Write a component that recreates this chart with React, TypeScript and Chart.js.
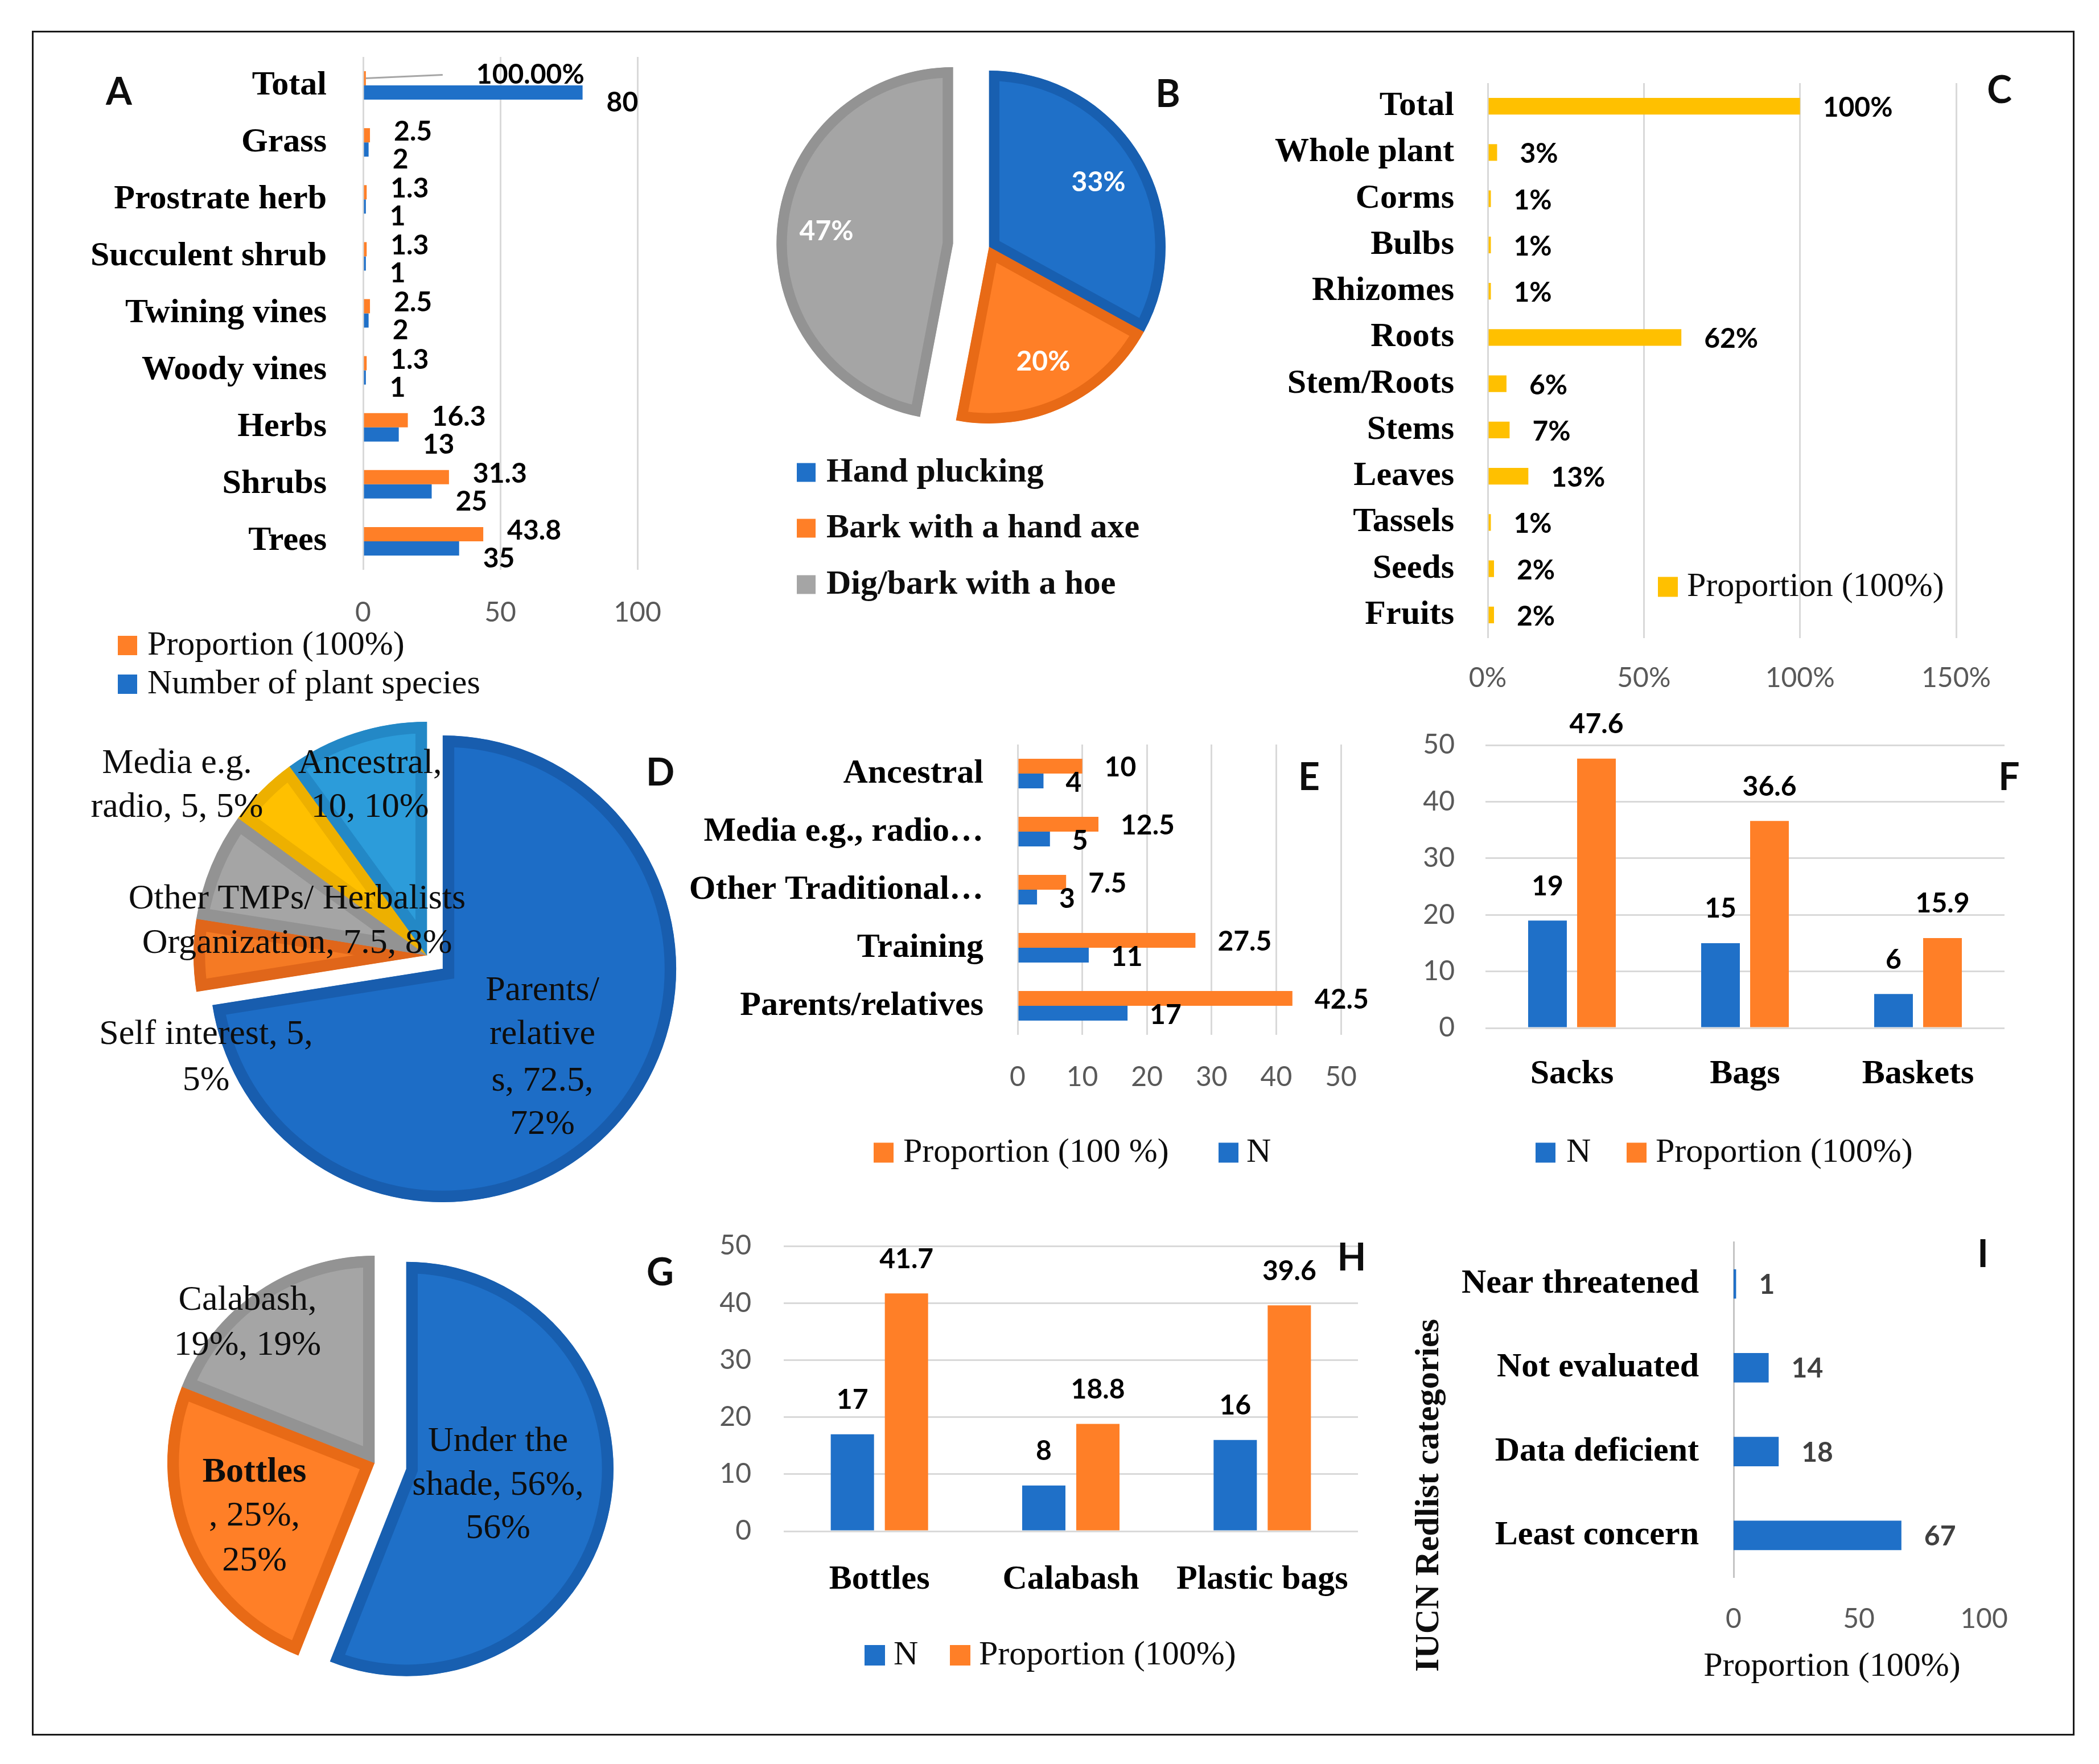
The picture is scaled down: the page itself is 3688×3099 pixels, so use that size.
import React, { useEffect, useRef } from 'react';
import { Chart, registerables } from 'chart.js';

Chart.register(...registerables);

const SERIF = "'Liberation Serif', 'Times New Roman', serif";
const SANS = "Lato, 'Open Sans', 'DejaVu Sans', sans-serif";
Chart.defaults.font.family = SANS;

const BLUE = '#1F70C8';
const BLUE_EDGE = '#185FB0';
const ORANGE = '#FF7F27';
const ORANGE_EDGE = '#E86A16';
const GREY = '#A5A5A5';
const GREY_EDGE = '#939393';
const YELLOW = '#FFC000';
const YELLOW_EDGE = '#EDB000';
const SKY = '#2C9CDA';
const SKY_EDGE = '#2388C6';
const GRID = '#D9D9D9';
const TICK = '#595959';
const INK = '#0D0D0D';

// ---------------- DATA ----------------
// A: growth forms
const A_CATEGORIES = ['Total', 'Grass', 'Prostrate herb', 'Succulent shrub', 'Twining vines', 'Woody vines', 'Herbs', 'Shrubs', 'Trees'];
const A_PROPORTION = [1, 2.5, 1.3, 1.3, 2.5, 1.3, 16.3, 31.3, 43.8];
const A_PROPORTION_LABELS = ['100.00%', '2.5', '1.3', '1.3', '2.5', '1.3', '16.3', '31.3', '43.8'];
const A_SPECIES = [80, 2, 1, 1, 2, 1, 13, 25, 35];
const A_SERIES = ['Proportion (100%)', 'Number of plant species'];
const A_TICKS = [0, 50, 100];

// B: harvesting methods
const B_METHODS = ['Hand plucking', 'Bark with a hand axe', 'Dig/bark with a hoe'];
const B_SHARES = [33, 20, 47];

// C: plant parts
const C_PARTS = ['Total', 'Whole plant', 'Corms', 'Bulbs', 'Rhizomes', 'Roots', 'Stem/Roots', 'Stems', 'Leaves', 'Tassels', 'Seeds', 'Fruits'];
const C_SHARES = [100, 3, 1, 1, 1, 62, 6, 7, 13, 1, 2, 2];
const C_SERIES = 'Proportion (100%)';
const C_TICKS = [0, 50, 100, 150];

// D: source of knowledge (pie)
const D_SOURCES = ['Parents/relatives', 'Self interest', 'Other TMPs/ Herbalists Organization', 'Media e.g. radio', 'Ancestral'];
const D_VALUES = [72.5, 5, 7.5, 5, 10];
const D_LABEL_LINES = [
  ['Parents/', 'relative', 's, 72.5,', '72%'],
  ['Self interest, 5,', '5%'],
  ['Other TMPs/ Herbalists', 'Organization, 7.5, 8%'],
  ['Media e.g.', 'radio, 5, 5%'],
  ['Ancestral,', '10, 10%'],
];

// E: source of knowledge (bars)
const E_SOURCES = ['Ancestral', 'Media e.g., radio\u2026', 'Other Traditional\u2026', 'Training', 'Parents/relatives'];
const E_PROPORTION = [10, 12.5, 7.5, 27.5, 42.5];
const E_N = [4, 5, 3, 11, 17];
const E_SERIES = ['Proportion (100 %)', 'N'];
const E_TICKS = [0, 10, 20, 30, 40, 50];

// F: transport containers
const F_CONTAINERS = ['Sacks', 'Bags', 'Baskets'];
const F_N = [19, 15, 6];
const F_PROPORTION = [47.6, 36.6, 15.9];
const F_SERIES = ['N', 'Proportion (100%)'];
const F_TICKS = [0, 10, 20, 30, 40, 50];

// G: storage (pie)
const G_STORAGE = ['Under the shade', 'Bottles', 'Calabash'];
const G_VALUES = [56, 25, 19];
const G_LABEL_LINES = [
  ['Under the', 'shade, 56%,', '56%'],
  ['Bottles', ', 25%,', '25%'],
  ['Calabash,', '19%, 19%'],
];

// H: storage containers
const H_CONTAINERS = ['Bottles', 'Calabash', 'Plastic bags'];
const H_N = [17, 8, 16];
const H_PROPORTION = [41.7, 18.8, 39.6];
const H_SERIES = ['N', 'Proportion (100%)'];
const H_TICKS = [0, 10, 20, 30, 40, 50];

// I: IUCN categories
const I_CATEGORIES = ['Near threatened', 'Not evaluated', 'Data deficient', 'Least concern'];
const I_VALUES = [1, 14, 18, 67];
const I_TICKS = [0, 50, 100];
const I_X_TITLE = 'Proportion (100%)';
const I_Y_TITLE = 'IUCN Redlist categories';

// ---------------- helpers ----------------
const LETTER_FONT = `bold 66px ${SANS}`;
const LABEL_FONT = `bold 48px ${SANS}`;
const LEGEND_FONT = `60px ${SERIF}`;
const LEGEND_BOLD = `bold 60px ${SERIF}`;
const PIE_FONT = `62px ${SERIF}`;
const PIE_BOLD = `bold 62px ${SERIF}`;

function annot(ox: number, oy: number, spec: any) {
  return {
    id: 'annot',
    afterDraw(chart: any) {
      const ctx = chart.ctx;
      ctx.save();
      for (const l of spec.lines || []) {
        ctx.strokeStyle = l.color;
        ctx.lineWidth = l.width;
        ctx.beginPath();
        ctx.moveTo(l.x1 - ox, l.y1 - oy);
        ctx.lineTo(l.x2 - ox, l.y2 - oy);
        ctx.stroke();
      }
      for (const b of spec.boxes || []) {
        ctx.fillStyle = b.color;
        ctx.fillRect(b.x - ox, b.y - oy - b.size / 2, b.size, b.size);
      }
      for (const t of spec.texts || []) {
        ctx.save();
        ctx.translate(t.x - ox, t.y - oy);
        if (t.rot) ctx.rotate(t.rot);
        ctx.font = t.font;
        ctx.fillStyle = t.color || INK;
        ctx.textAlign = t.align || 'center';
        ctx.textBaseline = 'middle';
        ctx.fillText(t.text, 0, 0);
        ctx.restore();
      }
      ctx.restore();
    },
  };
}

function legendSpec(entries: any[]) {
  const boxes: any[] = [];
  const texts: any[] = [];
  for (const e of entries) {
    boxes.push({ x: e.x, y: e.y, size: e.size, color: e.color });
    texts.push({ x: e.tx, y: e.y, text: e.text, font: e.font, align: 'left', color: e.textColor || INK });
  }
  return { boxes, texts };
}

function barLabels(sets: any[], horizontal: boolean) {
  return {
    id: 'barLabels',
    afterDatasetsDraw(chart: any) {
      const ctx = chart.ctx;
      ctx.save();
      sets.forEach((s, di) => {
        if (!s) return;
        const meta = chart.getDatasetMeta(di);
        meta.data.forEach((el: any, i: number) => {
          const text = s.labels[i];
          ctx.font = s.font;
          ctx.fillStyle = s.color || '#000';
          ctx.textBaseline = 'middle';
          if (horizontal) {
            const extra = (s.extra && s.extra[i]) || 0;
            const lx = el.x + s.dx + extra;
            const ly = el.y + s.dy;
            if (extra) {
              ctx.strokeStyle = '#A6A6A6';
              ctx.lineWidth = 3;
              ctx.beginPath();
              ctx.moveTo(el.x, el.y);
              ctx.lineTo(lx - 59, ly);
              ctx.stroke();
            }
            ctx.textAlign = 'left';
            ctx.fillText(text, lx, ly);
          } else {
            ctx.textAlign = 'center';
            ctx.fillText(text, el.x, el.y - s.gap);
          }
        });
      });
      ctx.restore();
    },
  };
}

function layoutFor(ox: number, oy: number, w: number, h: number, area: number[]) {
  return {
    yWidth: area[0] - ox,
    xHeight: oy + h - area[3],
    padding: { left: 0, top: area[1] - oy, right: ox + w - area[2], bottom: 0 },
  };
}

function fixBox(size: number, isX: boolean) {
  return (s: any) => {
    if (isX) s.height = size;
    else s.width = size;
    s.paddingTop = 0;
    s.paddingBottom = 0;
    s.paddingLeft = 0;
    s.paddingRight = 0;
  };
}

function linearAxis(ticks: number[], pad: number, size: number, isX: boolean, extra: any = {}) {
  const t: any = { stepSize: ticks[1] - ticks[0], color: TICK, font: { family: SANS, size: 48 }, padding: pad };
  if (extra.callback) t.callback = extra.callback;
  return {
    type: 'linear',
    position: isX ? 'bottom' : 'left',
    min: ticks[0],
    max: ticks[ticks.length - 1],
    ticks: t,
    grid: { display: extra.grid !== false, color: GRID, lineWidth: 3, drawTicks: false },
    border: { display: false },
    afterFit: fixBox(size, isX),
  };
}

function categoryAxis(pad: number, size: number, isX: boolean, extra: any = {}) {
  return {
    type: 'category',
    position: isX ? 'bottom' : 'left',
    ticks: {
      color: '#000',
      font: { family: SERIF, size: 60, weight: 'bold' },
      padding: pad,
      autoSkip: false,
      maxRotation: 0,
      minRotation: 0,
    },
    grid: { display: false, drawTicks: false },
    border: extra.border || { display: false },
    afterFit: fixBox(size, isX),
  };
}

function baseOptions(padding: any, extra: any = {}) {
  return {
    responsive: false,
    animation: false,
    devicePixelRatio: 1,
    events: [],
    layout: { padding },
    plugins: { legend: { display: false }, tooltip: { enabled: false } },
    ...extra,
  };
}

function explode(dist: number[]) {
  return {
    id: 'explode',
    beforeDatasetsDraw(chart: any) {
      const { chartArea } = chart;
      const cx = (chartArea.left + chartArea.right) / 2;
      const cy = (chartArea.top + chartArea.bottom) / 2;
      chart.getDatasetMeta(0).data.forEach((arc: any, i: number) => {
        const d = dist[i] || 0;
        const mid = (arc.startAngle + arc.endAngle) / 2;
        arc.x = cx + Math.cos(mid) * d;
        arc.y = cy + Math.sin(mid) * d;
      });
    },
  };
}

function pieLabels(texts: string[], R: number, frac: number, font: string, color: string) {
  return {
    id: 'pieLabels',
    afterDatasetsDraw(chart: any) {
      const ctx = chart.ctx;
      ctx.save();
      ctx.font = font;
      ctx.fillStyle = color;
      ctx.textAlign = 'center';
      ctx.textBaseline = 'middle';
      chart.getDatasetMeta(0).data.forEach((arc: any, i: number) => {
        const mid = (arc.startAngle + arc.endAngle) / 2;
        ctx.fillText(texts[i], arc.x + Math.cos(mid) * R * frac, arc.y + Math.sin(mid) * R * frac);
      });
      ctx.restore();
    },
  };
}

function pieConfig(ox: number, oy: number, w: number, h: number, p: any) {
  const s = p.radius + 10;
  const padding = {
    left: p.cx - s - ox,
    top: p.cy - s - oy,
    right: ox + w - (p.cx + s),
    bottom: oy + h - (p.cy + s),
  };
  return {
    type: 'pie',
    data: {
      labels: p.labels,
      datasets: [
        {
          data: p.values,
          backgroundColor: p.fills,
          borderColor: p.edges,
          borderWidth: p.borderWidth,
          borderAlign: 'inner',
          borderJoinStyle: 'miter',
        },
      ],
    },
    options: baseOptions(padding, { radius: p.radius }),
    plugins: [explode(p.explode), ...p.plugins],
  };
}

function lines(xs: number, ys: number[], texts: string[], font: string, boldFirst = false) {
  return texts.map((t, i) => ({ x: xs, y: ys[i], text: t, font: boldFirst && i === 0 ? PIE_BOLD : font }));
}

// ---------------- panels ----------------
function makeA(ox: number, oy: number, w: number, h: number) {
  const L = layoutFor(ox, oy, w, h, [638, 100, 1120, 1001]);
  const leg = legendSpec([
    { x: 207, y: 1134, size: 34, color: ORANGE, tx: 259, text: A_SERIES[0], font: LEGEND_FONT },
    { x: 207, y: 1202, size: 34, color: BLUE, tx: 259, text: A_SERIES[1], font: LEGEND_FONT },
  ]);
  return {
    type: 'bar',
    data: {
      labels: A_CATEGORIES,
      datasets: [
        { label: A_SERIES[0], data: A_PROPORTION, backgroundColor: ORANGE, categoryPercentage: 0.5, barPercentage: 1 },
        { label: A_SERIES[1], data: A_SPECIES, backgroundColor: BLUE, categoryPercentage: 0.5, barPercentage: 1 },
      ],
    },
    options: baseOptions(L.padding, {
      indexAxis: 'y',
      scales: { x: linearAxis(A_TICKS, 47, L.xHeight, true), y: categoryAxis(64, L.yWidth, false) },
    }),
    plugins: [
      barLabels(
        [
          { labels: A_PROPORTION_LABELS, dx: 42, dy: -6, font: LABEL_FONT, extra: [152] },
          { labels: A_SPECIES.map(String), dx: 42, dy: 18, font: LABEL_FONT },
        ],
        true
      ),
      annot(ox, oy, { boxes: leg.boxes, texts: [...leg.texts, { x: 209, y: 163, text: 'A', font: LETTER_FONT }] }),
    ],
  };
}

function makeB(ox: number, oy: number, w: number, h: number) {
  const R = 310;
  const leg = legendSpec([
    { x: 1400, y: 830, size: 33, color: BLUE, tx: 1452, text: B_METHODS[0], font: LEGEND_BOLD },
    { x: 1400, y: 928, size: 33, color: ORANGE, tx: 1452, text: B_METHODS[1], font: LEGEND_BOLD },
    { x: 1400, y: 1027, size: 33, color: GREY, tx: 1452, text: B_METHODS[2], font: LEGEND_BOLD },
  ]);
  return pieConfig(ox, oy, w, h, {
    cx: 1738,
    cy: 434,
    radius: R,
    labels: B_METHODS,
    values: B_SHARES,
    fills: [BLUE, ORANGE, GREY],
    edges: [BLUE_EDGE, ORANGE_EDGE, GREY_EDGE],
    borderWidth: 18,
    explode: [0, 0, 64],
    plugins: [
      pieLabels(B_SHARES.map((v) => v + '%'), R, 0.72, `bold 48px ${SANS}`, '#FFFFFF'),
      annot(ox, oy, { boxes: leg.boxes, texts: [...leg.texts, { x: 2052, y: 167, text: 'B', font: LETTER_FONT }] }),
    ],
  });
}

function makeC(ox: number, oy: number, w: number, h: number) {
  const L = layoutFor(ox, oy, w, h, [2614, 146, 3437, 1121]);
  const leg = legendSpec([{ x: 2913, y: 1031, size: 35, color: YELLOW, tx: 2964, text: C_SERIES, font: LEGEND_FONT }]);
  return {
    type: 'bar',
    data: {
      labels: C_PARTS,
      datasets: [{ label: C_SERIES, data: C_SHARES, backgroundColor: YELLOW, categoryPercentage: 0.36, barPercentage: 1 }],
    },
    options: baseOptions(L.padding, {
      indexAxis: 'y',
      scales: {
        x: linearAxis(C_TICKS, 42, L.xHeight, true, { callback: (v: any) => v + '%' }),
        y: categoryAxis(59, L.yWidth, false),
      },
    }),
    plugins: [
      barLabels([{ labels: C_SHARES.map((v) => v + '%'), dx: 40, dy: 3, font: LABEL_FONT }], true),
      annot(ox, oy, { boxes: leg.boxes, texts: [...leg.texts, { x: 3513, y: 160, text: 'C', font: LETTER_FONT }] }),
    ],
  };
}

function makeD(ox: number, oy: number, w: number, h: number) {
  const texts = [
    ...lines(953, [1741, 1818, 1900, 1976], D_LABEL_LINES[0], PIE_FONT),
    ...lines(362, [1818, 1899], D_LABEL_LINES[1], PIE_FONT),
    ...lines(522, [1580, 1658], D_LABEL_LINES[2], PIE_FONT),
    ...lines(311, [1342, 1419], D_LABEL_LINES[3], PIE_FONT),
    ...lines(650, [1342, 1419], D_LABEL_LINES[4], PIE_FONT),
    { x: 1160, y: 1359, text: 'D', font: LETTER_FONT },
  ];
  return pieConfig(ox, oy, w, h, {
    cx: 750,
    cy: 1678,
    radius: 410,
    labels: D_SOURCES,
    values: D_VALUES,
    fills: ['#1D6DC6', '#F57A24', GREY, YELLOW, SKY],
    edges: ['#185DAE', '#E0661A', GREY_EDGE, YELLOW_EDGE, SKY_EDGE],
    borderWidth: 20,
    explode: [37, 0, 0, 0, 0],
    plugins: [annot(ox, oy, { texts })],
  });
}

function makeE(ox: number, oy: number, w: number, h: number) {
  const L = layoutFor(ox, oy, w, h, [1788, 1308, 2356, 1818]);
  const leg = legendSpec([
    { x: 1535, y: 2025, size: 35, color: ORANGE, tx: 1587, text: E_SERIES[0], font: LEGEND_FONT },
    { x: 2141, y: 2025, size: 35, color: BLUE, tx: 2190, text: E_SERIES[1], font: LEGEND_FONT },
  ]);
  return {
    type: 'bar',
    data: {
      labels: E_SOURCES,
      datasets: [
        { label: E_SERIES[0], data: E_PROPORTION, backgroundColor: ORANGE, categoryPercentage: 0.51, barPercentage: 1 },
        { label: E_SERIES[1], data: E_N, backgroundColor: BLUE, categoryPercentage: 0.51, barPercentage: 1 },
      ],
    },
    options: baseOptions(L.padding, {
      indexAxis: 'y',
      scales: { x: linearAxis(E_TICKS, 46, L.xHeight, true), y: categoryAxis(60, L.yWidth, false) },
    }),
    plugins: [
      barLabels(
        [
          { labels: E_PROPORTION.map(String), dx: 39, dy: 3, font: LABEL_FONT },
          { labels: E_N.map(String), dx: 39, dy: 4, font: LABEL_FONT },
        ],
        true
      ),
      annot(ox, oy, { boxes: leg.boxes, texts: [...leg.texts, { x: 2300, y: 1367, text: 'E', font: LETTER_FONT }] }),
    ],
  };
}

function verticalBars(ox: number, oy: number, w: number, h: number, p: any) {
  const L = layoutFor(ox, oy, w, h, p.area);
  return {
    type: 'bar',
    data: {
      labels: p.labels,
      datasets: [
        { label: p.series[0], data: p.n, backgroundColor: BLUE, categoryPercentage: p.cat, barPercentage: p.bar },
        { label: p.series[1], data: p.prop, backgroundColor: ORANGE, categoryPercentage: p.cat, barPercentage: p.bar },
      ],
    },
    options: baseOptions(L.padding, {
      scales: { x: categoryAxis(p.xPad, L.xHeight, true), y: linearAxis(p.ticks, p.yPad, L.yWidth, false) },
    }),
    plugins: [
      barLabels(
        [
          { labels: p.n.map(String), gap: 60, font: LABEL_FONT },
          { labels: p.prop.map(String), gap: 60, font: LABEL_FONT },
        ],
        false
      ),
      annot(ox, oy, { boxes: p.legend.boxes, texts: [...p.legend.texts, p.letter] }),
    ],
  };
}

function makeF(ox: number, oy: number, w: number, h: number) {
  return verticalBars(ox, oy, w, h, {
    area: [2610, 1309, 3522, 1806],
    labels: F_CONTAINERS,
    series: F_SERIES,
    n: F_N,
    prop: F_PROPORTION,
    ticks: F_TICKS,
    cat: 0.566,
    bar: 0.79,
    xPad: 45,
    yPad: 54,
    legend: legendSpec([
      { x: 2698, y: 2025, size: 35, color: BLUE, tx: 2752, text: F_SERIES[0], font: LEGEND_FONT },
      { x: 2858, y: 2025, size: 35, color: ORANGE, tx: 2909, text: F_SERIES[1], font: LEGEND_FONT },
    ]),
    letter: { x: 3530, y: 1367, text: 'F', font: LETTER_FONT },
  });
}

function makeG(ox: number, oy: number, w: number, h: number) {
  const texts = [
    ...lines(875, [2533, 2610, 2686], G_LABEL_LINES[0], PIE_FONT),
    ...lines(447, [2587, 2664, 2743], G_LABEL_LINES[1], PIE_FONT, true),
    ...lines(435, [2285, 2364], G_LABEL_LINES[2], PIE_FONT),
    { x: 1160, y: 2237, text: 'G', font: LETTER_FONT },
  ];
  return pieConfig(ox, oy, w, h, {
    cx: 658,
    cy: 2570,
    radius: 364,
    labels: G_STORAGE,
    values: G_VALUES,
    fills: [BLUE, ORANGE, GREY],
    edges: [BLUE_EDGE, ORANGE_EDGE, GREY_EDGE],
    borderWidth: 20,
    explode: [57, 0, 0],
    plugins: [annot(ox, oy, { texts })],
  });
}

function makeH(ox: number, oy: number, w: number, h: number) {
  return verticalBars(ox, oy, w, h, {
    area: [1377, 2189, 2386, 2690],
    labels: H_CONTAINERS,
    series: H_SERIES,
    n: H_N,
    prop: H_PROPORTION,
    ticks: H_TICKS,
    cat: 0.565,
    bar: 0.8,
    xPad: 49,
    yPad: 57,
    legend: legendSpec([
      { x: 1519, y: 2908, size: 36, color: BLUE, tx: 1570, text: H_SERIES[0], font: LEGEND_FONT },
      { x: 1669, y: 2908, size: 36, color: ORANGE, tx: 1720, text: H_SERIES[1], font: LEGEND_FONT },
    ]),
    letter: { x: 2375, y: 2211, text: 'H', font: LETTER_FONT },
  });
}

function makeI(ox: number, oy: number, w: number, h: number) {
  const L = layoutFor(ox, oy, w, h, [3046, 2182, 3486, 2771]);
  return {
    type: 'bar',
    data: {
      labels: I_CATEGORIES,
      datasets: [{ label: I_X_TITLE, data: I_VALUES, backgroundColor: BLUE, categoryPercentage: 0.35, barPercentage: 1 }],
    },
    options: baseOptions(L.padding, {
      indexAxis: 'y',
      scales: {
        x: linearAxis(I_TICKS, 45, L.xHeight, true, { grid: false }),
        y: categoryAxis(61, L.yWidth, false, { border: { display: true, color: '#C4C4C4', width: 3 } }),
      },
    }),
    plugins: [
      barLabels([{ labels: I_VALUES.map(String), dx: 40, dy: 2, font: LABEL_FONT, color: '#404040' }], true),
      annot(ox, oy, {
        texts: [
          { x: 3219, y: 2928, text: I_X_TITLE, font: LEGEND_FONT },
          { x: 2511, y: 2627, text: I_Y_TITLE, font: LEGEND_BOLD, rot: -Math.PI / 2 },
          { x: 3484, y: 2205, text: 'I', font: LETTER_FONT },
        ],
      }),
    ],
  };
}

function Panel({ rect, make }: { rect: number[]; make: (ox: number, oy: number, w: number, h: number) => any }) {
  const ref = useRef<HTMLCanvasElement>(null);
  useEffect(() => {
    const [x, y, w, h] = rect;
    const chart = new Chart(ref.current as HTMLCanvasElement, make(x, y, w, h));
    return () => chart.destroy();
  }, []);
  const [x, y, w, h] = rect;
  return (
    <canvas
      ref={ref}
      width={w}
      height={h}
      style={{ position: 'absolute', left: x, top: y, width: w, height: h }}
    />
  );
}

const PANELS: [number[], any][] = [
  [[60, 60, 1240, 1180], makeA],
  [[1300, 60, 980, 1100], makeB],
  [[2200, 60, 1435, 1230], makeC],
  [[60, 1240, 1150, 920], makeD],
  [[1150, 1260, 1280, 850], makeE],
  [[2440, 1240, 1190, 880], makeF],
  [[60, 2160, 1150, 880], makeG],
  [[1250, 2120, 1200, 920], makeH],
  [[2460, 2140, 1170, 890], makeI],
];

export default function App() {
  return (
    <div
      style={{
        position: 'absolute',
        left: 0,
        top: 0,
        width: 3688,
        height: 3099,
        background: '#FFFFFF',
        overflow: 'hidden',
      }}
    >
      <div
        style={{
          position: 'absolute',
          left: 56,
          top: 54,
          width: 3645 - 56,
          height: 3049 - 54,
          border: '3px solid #1A1A1A',
          boxSizing: 'border-box',
        }}
      />
      {PANELS.map(([rect, make], i) => (
        <Panel key={i} rect={rect} make={make} />
      ))}
    </div>
  );
}
